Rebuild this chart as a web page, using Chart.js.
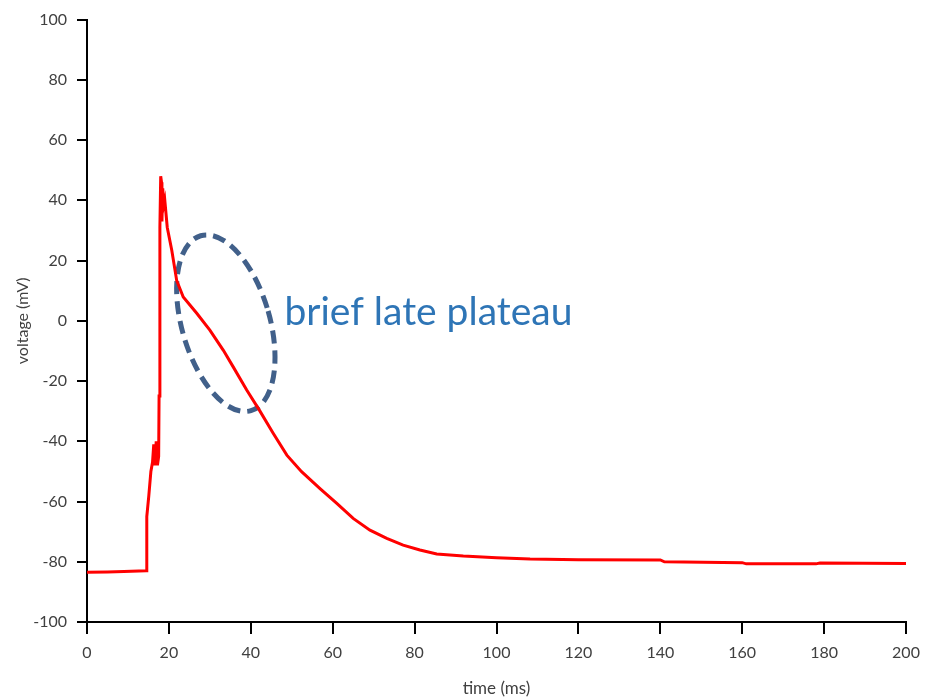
<!DOCTYPE html>
<html>
<head>
<meta charset="utf-8">
<title>Action potential</title>
<script src="https://cdn.jsdelivr.net/npm/chart.js@4.4.1/dist/chart.umd.min.js"></script>
<style>
  html, body { margin: 0; padding: 0; background: #fff; }
  #wrap { width: 925px; height: 700px; }
</style>
</head>
<body>
<div id="wrap"><canvas id="apChart" width="925" height="700"></canvas></div>
<script>
// recorded trace, time in ms and membrane voltage in mV
const timeMs = [0, 5, 9, 14.5, 14.6, 15.1, 15.6, 16.0, 16.3, 16.6,
  16.9, 17.2, 17.5, 17.6, 17.8, 18.0, 18.2, 18.3, 18.5, 18.7,
  19.0, 19.6, 20.7, 21.9, 23.5, 26.8, 30.0, 33.3, 35.7, 39.0,
  42.2, 45.5, 48.8, 52.4, 56.9, 61.0, 65.0, 69.1, 73.2, 77.2,
  81.3, 85.4, 91.9, 100, 108.2, 120, 140, 141, 160, 161,
  178, 179, 200];
const voltage = [-83.5, -83.4, -83.2, -83.0, -65.0, -58, -50, -47, -41, -48,
  -40, -48, -45, -25, 31, 48, 46, 33, 44, 38,
  40, 31, 23.4, 13.4, 7.9, 2.5, -3.1, -9.8, -15.3, -23.0,
  -29.9, -37.4, -44.6, -50.1, -55.7, -60.6, -65.6, -69.5, -72.2, -74.5,
  -76.1, -77.4, -78.1, -78.7, -79.1, -79.3, -79.4, -80.0, -80.3, -80.7,
  -80.7, -80.4, -80.6];

const xTicks = [0, 20, 40, 60, 80, 100, 120, 140, 160, 180, 200];
const yTicks = [-100, -80, -60, -40, -20, 0, 20, 40, 60, 80, 100];

// callout around the late plateau
const plateauNote = 'brief late plateau';
const plateauCenter = { x: 33.9, y: -0.8 };
const noteAnchor = { x: 48.2, y: -1.3 };

const points = timeMs.map((t, i) => ({ x: t, y: voltage[i] }));

const calloutPlugin = {
  id: 'callout',
  beforeDatasetsDraw(chart) {
    const { ctx, scales } = chart;
    const cx = scales.x.getPixelForValue(plateauCenter.x);
    const cy = scales.y.getPixelForValue(plateauCenter.y);
    ctx.save();
    ctx.strokeStyle = '#41608a';
    ctx.lineWidth = 5;
    ctx.setLineDash([13, 7]);
    ctx.beginPath();
    ctx.ellipse(cx, cy, 44, 91, -0.28, 0, Math.PI * 2);
    ctx.stroke();
    ctx.restore();
  },
  afterDatasetsDraw(chart) {
    const { ctx, scales } = chart;
    ctx.save();
    ctx.fillStyle = '#2e75b6';
    ctx.font = '39px Lato';
    ctx.textBaseline = 'alphabetic';
    ctx.fillText(plateauNote,
      scales.x.getPixelForValue(noteAnchor.x),
      scales.y.getPixelForValue(noteAnchor.y));
    ctx.restore();
  }
};

const tickFont = { family: 'Lato', size: 16 };

new Chart(document.getElementById('apChart'), {
  type: 'line',
  data: {
    datasets: [{
      data: points,
      borderColor: '#ff0000',
      borderWidth: 3,
      pointRadius: 0,
      tension: 0,
      fill: false
    }]
  },
  options: {
    responsive: false,
    animation: false,
    layout: { padding: { top: 19, right: 19, left: 0, bottom: 0 } },
    plugins: { legend: { display: false }, tooltip: { enabled: false } },
    scales: {
      x: {
        type: 'linear',
        min: 0,
        max: 200,
        afterBuildTicks: (s) => { s.ticks = xTicks.map(v => ({ value: v })); },
        afterFit: (s) => { s.height = 78; s.paddingLeft = 0; s.paddingRight = 0; },
        border: { color: '#000', width: 2 },
        grid: { drawOnChartArea: false, color: '#000', lineWidth: 2, tickLength: 12 },
        ticks: { color: '#404040', font: tickFont, padding: 9, maxRotation: 0 },
        title: { display: true, text: 'time (ms)', color: '#404040',
          font: { family: 'Lato', size: 17 }, padding: { top: 0, bottom: 1 } }
      },
      y: {
        min: -100,
        max: 100,
        afterBuildTicks: (s) => { s.ticks = yTicks.map(v => ({ value: v })); },
        afterFit: (s) => { s.width = 87; },
        border: { color: '#000', width: 2 },
        grid: { drawOnChartArea: false, color: '#000', lineWidth: 2, tickLength: 10 },
        ticks: { color: '#404040', font: tickFont, padding: 10 },
        title: { display: true, text: 'voltage (mV)', color: '#404040',
          font: { family: 'Lato', size: 16 }, padding: { top: 13, bottom: 0 } }
      }
    }
  },
  plugins: [calloutPlugin]
});
</script>
</body>
</html>
